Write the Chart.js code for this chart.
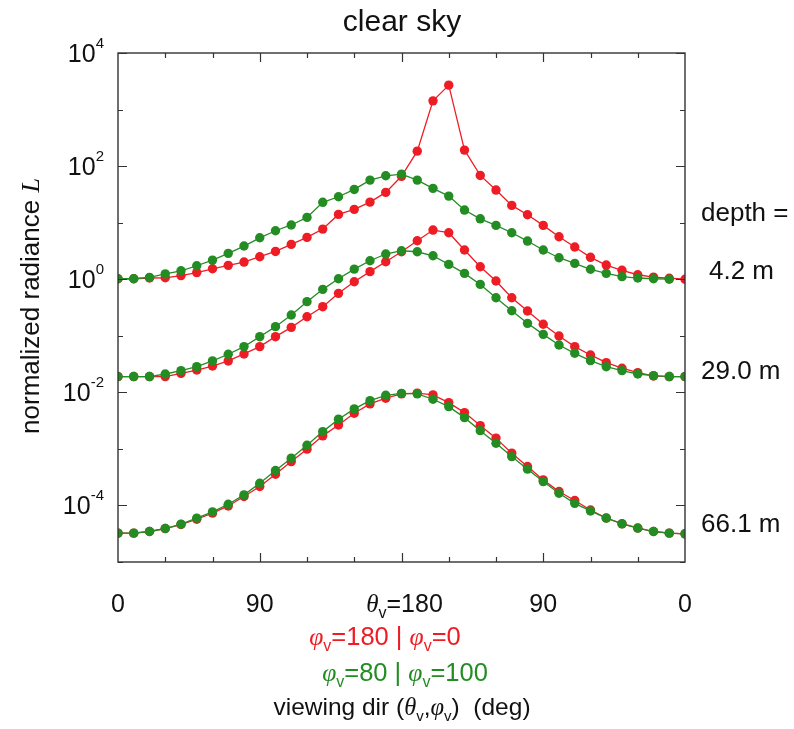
<!DOCTYPE html>
<html>
<head>
<meta charset="utf-8">
<script src="https://cdn.jsdelivr.net/npm/chart.js@4/dist/chart.umd.min.js"></script>
<style>
  body { margin: 0; background: #fff; }
  canvas { display: block; }
</style>
</head>
<body>
<canvas id="radChart" width="794" height="729"></canvas>
<script>
// viewing angle along the x axis: 0..180 at phi=180 side, then back to 0 at phi=0 side
const angles = [0, 10, 20, 30, 40, 50, 60, 70, 80, 90, 100, 110, 120, 130, 140, 150, 160, 170, 180,
  190, 200, 210, 220, 230, 240, 250, 260, 270, 280, 290, 300, 310, 320, 330, 340, 350, 360];

// depth 4.2 m
const red42 = [1.02, 1.02, 1.05, 1.06, 1.16, 1.31, 1.53, 1.76, 2.01, 2.50, 3.10, 4.13, 5.49, 7.7, 14.0, 17.2, 23.1, 34.3, 66,
  184, 1425, 2700, 192, 68.4, 37.7, 20.2, 13.8, 8.95, 5.63, 3.71, 2.44, 1.78, 1.44, 1.20, 1.09, 1.04, 1.0];
const green42 = [1.02, 1.02, 1.08, 1.24, 1.41, 1.73, 2.18, 2.87, 3.86, 5.4, 7.2, 9.1, 12.4, 22.9, 28.7, 38.7, 56.6, 67.4, 72.3,
  56.6, 40.4, 29.5, 16.7, 11.7, 8.95, 6.64, 4.73, 3.28, 2.40, 1.91, 1.50, 1.27, 1.11, 1.05, 1.02, 1.0, null];

// depth 29.0 m
const red29 = [0.019, 0.019, 0.019, 0.019, 0.0217, 0.0248, 0.0292, 0.0359, 0.0477, 0.0643, 0.0964, 0.141, 0.217, 0.327, 0.563, 0.904, 1.36, 2.04, 3.06,
  4.79, 7.40, 6.64, 3.28, 1.66, 0.93, 0.471, 0.274, 0.160, 0.0991, 0.0643, 0.0458, 0.0335, 0.0267, 0.0223, 0.0195, 0.019, 0.019];
const green29 = [0.019, 0.019, 0.019, 0.0211, 0.0242, 0.0284, 0.0359, 0.0471, 0.0643, 0.0964, 0.145, 0.233, 0.401, 0.662, 1.02, 1.51, 2.12, 2.79, 3.19,
  3.06, 2.60, 1.83, 1.27, 0.81, 0.471, 0.277, 0.166, 0.106, 0.0687, 0.049, 0.0363, 0.0284, 0.0242, 0.0211, 0.0197, 0.019, 0.019];

// depth 66.1 m
const red66 = [3.24e-5, 3.24e-5, 3.46e-5, 3.9e-5, 4.6e-5, 5.7e-5, 7.3e-5, 9.8e-5, 1.44e-4, 2.16e-4, 3.57e-4, 5.97e-4, 9.9e-4, 1.70e-3, 2.65e-3, 4.27e-3, 6.24e-3, 7.87e-3, 9.4e-3,
  9.7e-3, 9.0e-3, 6.58e-3, 4.38e-3, 2.58e-3, 1.55e-3, 8.4e-4, 4.88e-4, 2.83e-4, 1.76e-4, 1.22e-4, 8.3e-5, 6.0e-5, 4.75e-5, 4.0e-5, 3.46e-5, 3.24e-5, 3.15e-5];
const green66 = [3.24e-5, 3.24e-5, 3.46e-5, 3.91e-5, 4.67e-5, 5.96e-5, 7.7e-5, 1.05e-4, 1.54e-4, 2.47e-4, 4.14e-4, 6.85e-4, 1.16e-3, 2.02e-3, 3.35e-3, 5.09e-3, 7.13e-3, 8.87e-3, 9.6e-3,
  9.4e-3, 7.55e-3, 5.59e-3, 3.57e-3, 2.10e-3, 1.26e-3, 7.31e-4, 4.38e-4, 2.64e-4, 1.64e-4, 1.09e-4, 8.0e-5, 5.96e-5, 4.73e-5, 3.97e-5, 3.46e-5, 3.24e-5, 3.15e-5];

const depthLabels = ['4.2 m', '29.0 m', '66.1 m'];
const xTickValues = [0, 30, 60, 90, 120, 150, 180, 210, 240, 270, 300, 330, 360];
const xLabelValues = [0, 90, 270, 360];
const xLabelTexts = ['0', '90', '90', '0'];
const yTickExps = [-5, -4, -3, -2, -1, 0, 1, 2, 3, 4];
const yLabelExps = [4, 2, 0, -2, -4];

const RED = '#ee1c24';
const GREEN = '#238c23';
const SANS = '"Liberation Sans", Arial, sans-serif';
const SERIF = '"Liberation Serif", "Times New Roman", serif';

function series(vals, color) {
  return {
    data: angles.map((a, i) => ({ x: a, y: vals[i] })),
    borderColor: color,
    backgroundColor: color,
    pointBackgroundColor: color,
    pointBorderWidth: 0,
    pointRadius: 4.7,
    borderWidth: 1.3,
    spanGaps: false,
    order: color === RED ? 2 : 1
  };
}

// draw a row of text pieces with different fonts, x is the centre (or left edge)
function drawRuns(ctx, runs, x, y, align) {
  let total = 0;
  runs.forEach(r => { ctx.font = r.font; total += ctx.measureText(r.t).width; });
  let cx = align === 'left' ? x : align === 'right' ? x - total : x - total / 2;
  ctx.textAlign = 'left';
  ctx.textBaseline = 'alphabetic';
  runs.forEach(r => {
    ctx.font = r.font;
    ctx.fillStyle = r.c || '#111';
    ctx.fillText(r.t, cx, y + (r.dy || 0));
    cx += ctx.measureText(r.t).width;
  });
}

function phiRow(a, b, color, size) {
  return [
    { t: '\u03c6', font: 'italic ' + size + 'px ' + SERIF, c: color },
    { t: 'v', font: '16px ' + SANS, dy: 6, c: color },
    { t: a, font: size + 'px ' + SANS, c: color },
    { t: '\u03c6', font: 'italic ' + size + 'px ' + SERIF, c: color },
    { t: 'v', font: '16px ' + SANS, dy: 6, c: color },
    { t: b, font: size + 'px ' + SANS, c: color }
  ];
}

const framePlugin = {
  id: 'frame',
  beforeDraw(chart) {
    const ctx = chart.ctx;
    ctx.save();
    ctx.fillStyle = '#fff';
    ctx.fillRect(0, 0, chart.width, chart.height);
    ctx.restore();
  },
  afterDraw(chart) {
    const ctx = chart.ctx;
    const a = chart.chartArea;
    const xs = chart.scales.x, ys = chart.scales.y;
    ctx.save();
    ctx.strokeStyle = '#333';
    ctx.lineWidth = 1.4;
    ctx.strokeRect(a.left, a.top, a.right - a.left, a.bottom - a.top);

    // inner ticks
    ctx.lineWidth = 1.2;
    ctx.beginPath();
    xTickValues.forEach(v => {
      if (v === 0 || v === 360) return;
      const px = Math.round(xs.getPixelForValue(v)) + 0.5;
      const len = v % 90 === 0 ? 9 : 5;
      ctx.moveTo(px, a.bottom); ctx.lineTo(px, a.bottom - len);
      ctx.moveTo(px, a.top); ctx.lineTo(px, a.top + len);
    });
    yTickExps.forEach(e => {
      const py = Math.round(ys.getPixelForValue(Math.pow(10, e))) + 0.5;
      const len = e % 2 === 0 ? 9 : 5;
      ctx.moveTo(a.left, py); ctx.lineTo(a.left + len, py);
      ctx.moveTo(a.right, py); ctx.lineTo(a.right - len, py);
    });
    ctx.stroke();

    // y tick labels 10^n
    yLabelExps.forEach(e => {
      const py = ys.getPixelForValue(Math.pow(10, e));
      drawRuns(ctx, [
        { t: '10', font: '25px ' + SANS },
        { t: String(e), font: '15px ' + SANS, dy: -14 }
      ], 104, py + 9, 'right');
    });

    // x tick labels
    xLabelValues.forEach((v, i) => {
      drawRuns(ctx, [{ t: xLabelTexts[i], font: '25px ' + SANS }], xs.getPixelForValue(v), 612, 'center');
    });
    drawRuns(ctx, [
      { t: '\u03b8', font: 'italic 25px ' + SERIF },
      { t: 'v', font: '16px ' + SANS, dy: 6 },
      { t: '=180', font: '25px ' + SANS }
    ], xs.getPixelForValue(180) + 3, 612, 'center');

    // azimuth lines and axis title
    drawRuns(ctx, phiRow('=180 | ', '=0', RED, 25.5), 385, 645, 'center');
    drawRuns(ctx, phiRow('=80 | ', '=100', GREEN, 25.5), 405, 681, 'center');
    drawRuns(ctx, [
      { t: 'viewing dir (', font: '24.5px ' + SANS },
      { t: '\u03b8', font: 'italic 24.5px ' + SERIF },
      { t: 'v', font: '15px ' + SANS, dy: 6 },
      { t: ',', font: '24.5px ' + SANS },
      { t: '\u03c6', font: 'italic 24.5px ' + SERIF },
      { t: 'v', font: '15px ' + SANS, dy: 6 },
      { t: ')  (deg)', font: '24.5px ' + SANS }
    ], 402, 715, 'center');

    // title
    drawRuns(ctx, [{ t: 'clear sky', font: '30px ' + SANS }], 402, 31, 'center');

    // depth labels at right
    drawRuns(ctx, [{ t: 'depth =', font: '26px ' + SANS }], 701, 221, 'left');
    drawRuns(ctx, [{ t: depthLabels[0], font: '26px ' + SANS }], 709, 279, 'left');
    drawRuns(ctx, [{ t: depthLabels[1], font: '26px ' + SANS }], 701, 379, 'left');
    drawRuns(ctx, [{ t: depthLabels[2], font: '26px ' + SANS }], 701, 532, 'left');

    // y axis title
    ctx.translate(30, 306);
    ctx.rotate(-Math.PI / 2);
    drawRuns(ctx, [
      { t: 'normalized radiance ', font: '26px ' + SANS },
      { t: 'L', font: 'italic 26px ' + SERIF }
    ], 0, 9, 'center');
    ctx.restore();
  }
};

const chart = new Chart(document.getElementById('radChart').getContext('2d'), {
  type: 'line',
  data: {
    datasets: [
      series(red42, RED), series(green42, GREEN),
      series(red29, RED), series(green29, GREEN),
      series(red66, RED), series(green66, GREEN)
    ]
  },
  options: {
    responsive: false,
    animation: false,
    layout: { padding: { left: 118, right: 109, top: 53, bottom: 167 } },
    plugins: { legend: { display: false }, tooltip: { enabled: false } },
    scales: {
      x: { type: 'linear', min: 0, max: 360, display: false },
      y: { type: 'logarithmic', min: 1e-5, max: 1e4, display: false }
    }
  },
  plugins: [framePlugin]
});
</script>
</body>
</html>
